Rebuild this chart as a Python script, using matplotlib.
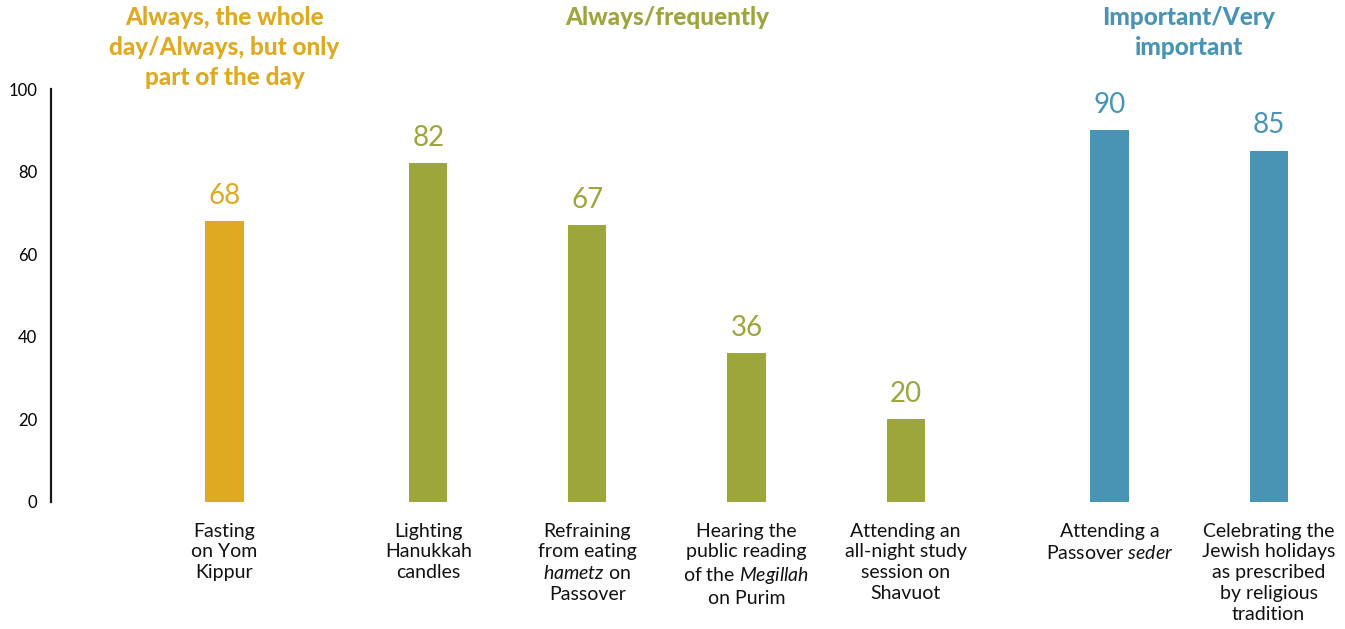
import matplotlib.pyplot as plt
import matplotlib.transforms as mtransforms

plt.rcParams['font.family'] = ['Lato', 'DejaVu Sans']
plt.rcParams['mathtext.fontset'] = 'custom'
plt.rcParams['mathtext.rm'] = 'Lato'
plt.rcParams['mathtext.it'] = 'Lato:italic'

# data
labels = [
    "Fasting\non Yom\nKippur",
    "Lighting\nHanukkah\ncandles",
    "Refraining\nfrom eating\n$\\mathit{hametz}$ on\nPassover",
    "Hearing the\npublic reading\nof the $\\mathit{Megillah}$\non Purim",
    "Attending an\nall-night study\nsession on\nShavuot",
    "Attending a\nPassover $\\mathit{seder}$",
    "Celebrating the\nJewish holidays\nas prescribed\nby religious\ntradition",
]
values = [68, 82, 67, 36, 20, 90, 85]
groups = [0, 1, 1, 1, 1, 2, 2]
group_titles = [
    "Always, the whole\nday/Always, but only\npart of the day",
    "Always/frequently",
    "Important/Very\nimportant",
]
group_colors = ["#DDAA22", "#9CA63B", "#4994B4"]

# x positions: one slot per bar, extra space between groups
gap = 0.28
positions = []
x = 0.0
for i, g in enumerate(groups):
    if i > 0:
        x += 1 + (gap if g != groups[i - 1] else 0)
    positions.append(x)

fig = plt.figure(figsize=(13.45, 6.29), dpi=100)
ax = fig.add_axes([51 / 1345, 127 / 629, 1 - 51 / 1345, 413 / 629])

colors = [group_colors[g] for g in groups]
ax.bar(positions, values, width=0.24, color=colors)

for p, v, c in zip(positions, values, colors):
    ax.annotate(str(v), (p, v), xytext=(0, 9), textcoords='offset points',
                ha='center', va='bottom', fontsize=20, color=c)

trans = mtransforms.blended_transform_factory(ax.transData, ax.transAxes)
for p, lab in zip(positions, labels):
    ax.text(p, -0.05, lab, transform=trans, ha='center', va='top',
            fontsize=14, linespacing=1.27, color='#111111')

# group headings above the plot
head_trans = mtransforms.blended_transform_factory(ax.transData, fig.transFigure)
for gi, title in enumerate(group_titles):
    xs = [p for p, g in zip(positions, groups) if g == gi]
    xc = (xs[0] + xs[-1]) / 2
    ax.text(xc, 1 - 6 / 629, title, transform=head_trans,
            ha='center', va='top', fontsize=17.5, fontweight='black',
            color=group_colors[gi], linespacing=1.36)

ax.set_ylim(0, 100)
ax.set_xlim(-1.09, 7.04)
ax.set_yticks(range(0, 101, 20))
ax.tick_params(axis='y', length=0, pad=10, labelsize=12)
ax.set_xticks([])
for s in ['top', 'right', 'bottom']:
    ax.spines[s].set_visible(False)
ax.spines['left'].set_linewidth(1.6)
ax.spines['left'].set_color('#1a1a1a')

fig.savefig('out.png', dpi=100)
